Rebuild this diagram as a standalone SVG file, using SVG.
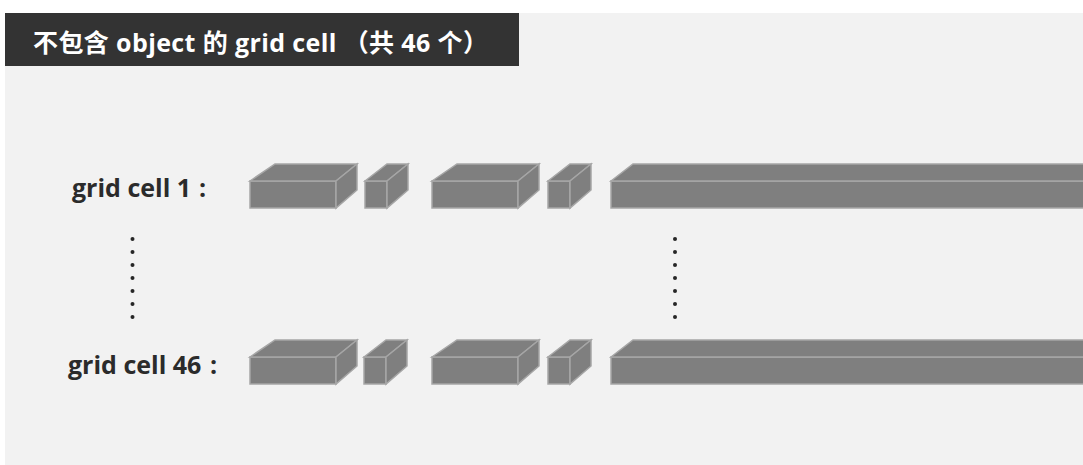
<svg xmlns="http://www.w3.org/2000/svg" width="1083" height="465" viewBox="0 0 1083 465">
<style>
.box{fill:#7f7f7f;stroke:#a6a6a6;stroke-width:1.5;stroke-linejoin:miter}
.lbl{font-family:"Open Sans","Noto Sans CJK SC",sans-serif;font-weight:700;font-size:25px;fill:#2b2b2b}
.hdr{font-family:"Open Sans","Noto Sans CJK SC",sans-serif;font-weight:700;font-size:25px;fill:#ffffff}
.dot{fill:#262626}
</style>
<defs>
<g id="bigbox">
<rect class="box" x="0" y="17" width="86" height="27"/>
<polygon class="box" points="0,17 25,0 107,0 86,17"/>
<polygon class="box" points="86,17 107,0 107,26 86,44"/>
</g>
<g id="smallbox">
<rect class="box" x="0" y="17" width="22" height="27"/>
<polygon class="box" points="0,17 22,0 43,0 22,17"/>
<polygon class="box" points="22,17 43,0 43,26 22,44"/>
</g>
<g id="longbar">
<rect class="box" x="0" y="17" width="490" height="27"/>
<polygon class="box" points="0,17 22,0 490,0 490,17"/>
</g>
</defs>
<rect x="5" y="13" width="1078" height="452" fill="#f2f2f2"/>
<g id="header">
<rect x="5" y="13" width="514" height="53" fill="#333333"/>
<text class="hdr" x="33" y="52" textLength="455" lengthAdjust="spacing">不包含 object 的 grid cell （共 46 个）</text>
</g>
<g id="row1">
<text class="lbl" x="72" y="197">grid cell 1<tspan x="199">:</tspan></text>
<use href="#bigbox" x="250" y="164"/>
<use href="#smallbox" x="365" y="164"/>
<use href="#bigbox" x="432" y="164"/>
<use href="#smallbox" x="548" y="164"/>
<use href="#longbar" x="611" y="164"/>
</g>
<g id="row46">
<text class="lbl" x="68" y="374">grid cell 46<tspan x="210">:</tspan></text>
<use href="#bigbox" x="250" y="340"/>
<use href="#smallbox" x="364" y="340"/>
<use href="#bigbox" x="432" y="340"/>
<use href="#smallbox" x="548" y="340"/>
<use href="#longbar" x="611" y="340"/>
</g>
<g id="ellipsis-left">
<circle class="dot" cx="132.5" cy="239" r="2"/>
<circle class="dot" cx="132.5" cy="252" r="2"/>
<circle class="dot" cx="132.5" cy="265" r="2"/>
<circle class="dot" cx="132.5" cy="278" r="2"/>
<circle class="dot" cx="132.5" cy="291" r="2"/>
<circle class="dot" cx="132.5" cy="304" r="2"/>
<circle class="dot" cx="132.5" cy="317" r="2"/>
</g>
<g id="ellipsis-right">
<circle class="dot" cx="675" cy="239" r="2"/>
<circle class="dot" cx="675" cy="252" r="2"/>
<circle class="dot" cx="675" cy="265" r="2"/>
<circle class="dot" cx="675" cy="278" r="2"/>
<circle class="dot" cx="675" cy="291" r="2"/>
<circle class="dot" cx="675" cy="304" r="2"/>
<circle class="dot" cx="675" cy="317" r="2"/>
</g>
</svg>
